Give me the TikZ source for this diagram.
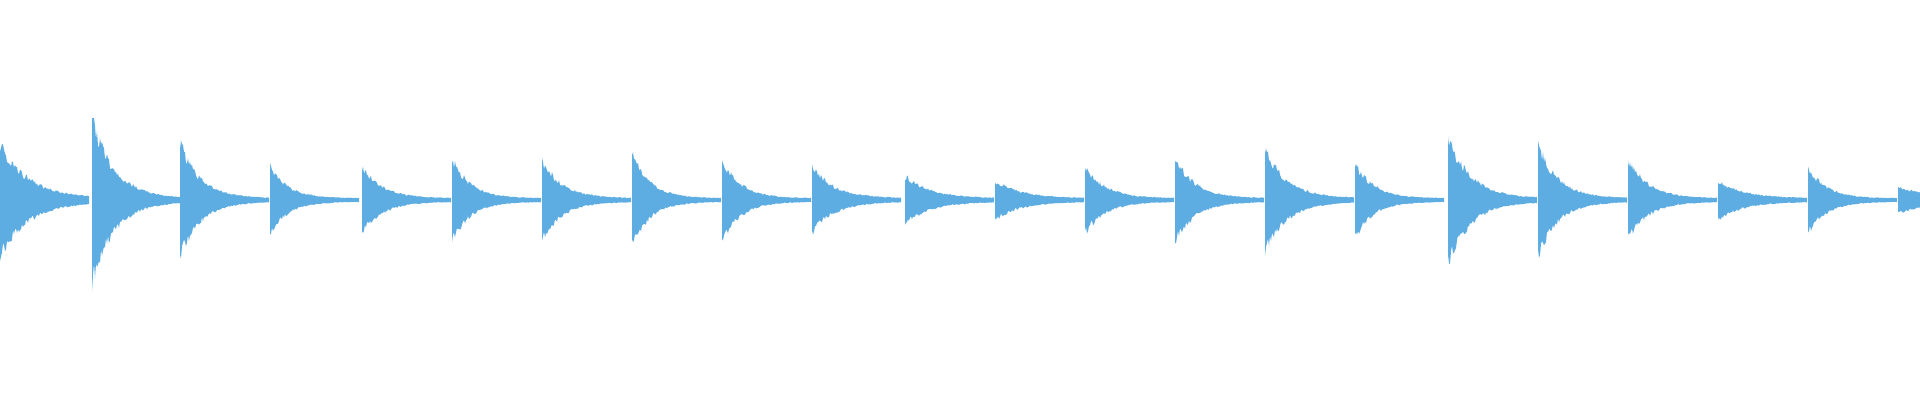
\documentclass[tikz,border=0pt]{standalone}
\tikzset{
  wave/.style={fill={rgb,255:red,93;green,173;blue,226}, draw=none}
}
\begin{document}
\begin{tikzpicture}[x=1pt,y=-1pt]
    \useasboundingbox (0,0) rectangle (1920,400);
    \pgfmathsetseed{7}
    % one burst per beat: start / height / decay
    \foreach \s/\a/\d in {0/60/28, 92/90/22, 180/62/20, 270/35/18, 362/35/20,
        452/45/18, 542/43/20, 632/50/18, 722/45/18, 812/35/22, 905/25/25,
        995/20/25, 1085/35/20, 1175/45/20, 1265/55/22, 1355/40/18,
        1448/70/22, 1538/60/20, 1628/43/20, 1718/20/25, 1808/35/18, 1898/13/30}
    {
      \fill[wave] plot[domain=0:89, samples=90]
          (\s+\x, {200-(\a*exp(-\x/\d)+2)*(0.75+0.25*rnd)})
        -- plot[domain=89:0, samples=90]
          (\s+\x, {200+(\a*exp(-\x/\d)+2)*(0.75+0.25*rnd)}) -- cycle;
    }
\end{tikzpicture}
\end{document}
